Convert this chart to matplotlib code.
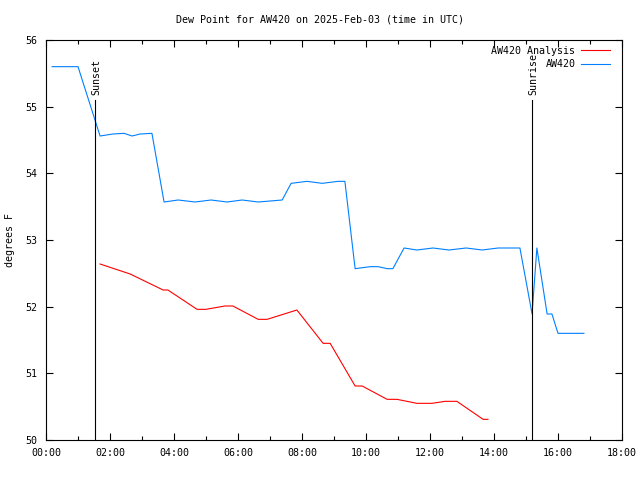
import matplotlib
matplotlib.use("Agg")
import matplotlib.pyplot as plt
from matplotlib.ticker import MultipleLocator, FuncFormatter

# Times in hours UTC
blue_t = [0.19, 1.0, 1.69, 2.09, 2.44, 2.69, 2.94, 3.31, 3.69, 4.13, 4.66, 5.16, 5.66,
          6.13, 6.63, 7.38, 7.66, 8.16, 8.63, 9.13, 9.34, 9.66, 10.13, 10.38, 10.66,
          10.84, 11.19, 11.59, 12.09, 12.59, 13.13, 13.63, 14.13, 14.81, 15.19, 15.34,
          15.66, 15.81, 16.0, 16.81]
blue_v = [55.6, 55.6, 54.56, 54.59, 54.6, 54.56, 54.59, 54.6, 53.57, 53.6, 53.57, 53.6,
          53.57, 53.6, 53.57, 53.6, 53.85, 53.88, 53.85, 53.88, 53.88, 52.57, 52.6, 52.6,
          52.57, 52.57, 52.88, 52.85, 52.88, 52.85, 52.88, 52.85, 52.88, 52.88, 51.89,
          52.88, 51.89, 51.89, 51.6, 51.6]

red_t = [1.69, 2.63, 3.66, 3.81, 4.72, 5.0, 5.59, 5.84, 6.63, 6.91, 7.84, 8.66, 8.88,
         9.66, 9.88, 10.66, 10.97, 11.59, 12.06, 12.47, 12.84, 13.66, 13.81]
red_v = [52.64, 52.49, 52.25, 52.25, 51.96, 51.96, 52.01, 52.01, 51.81, 51.81, 51.95,
         51.45, 51.45, 50.81, 50.81, 50.61, 50.61, 50.55, 50.55, 50.58, 50.58, 50.31, 50.31]

sunset_t = 1.53
sunrise_t = 15.19
event_top = 55.1

title = "Dew Point for AW420 on 2025-Feb-03 (time in UTC)"
mono = ["DejaVu Sans Mono"]
fs = 7.2

fig = plt.figure(figsize=(6.4, 4.8), dpi=100)
ax = fig.add_axes([46/640, 40/480, 576/640, 400/480])

ax.plot(red_t, red_v, color="#ff0000", lw=0.8, label="AW420 Analysis")
ax.plot(blue_t, blue_v, color="#0080ff", lw=0.8, label="AW420")

ax.plot([sunset_t, sunset_t], [50, event_top], color="black", lw=0.8)
ax.plot([sunrise_t, sunrise_t], [50, event_top], color="black", lw=0.8)
ax.text(sunset_t + 0.05, event_top + 0.08, "Sunset", rotation=90, ha="center", va="bottom",
        family=mono, fontsize=fs)
ax.text(sunrise_t + 0.05, event_top + 0.08, "Sunrise", rotation=90, ha="center", va="bottom",
        family=mono, fontsize=fs)

ax.set_xlim(0, 18)
ax.set_ylim(50, 56)
ax.xaxis.set_major_locator(MultipleLocator(2))
ax.xaxis.set_minor_locator(MultipleLocator(1))
ax.yaxis.set_major_locator(MultipleLocator(1))
ax.xaxis.set_major_formatter(FuncFormatter(lambda v, p: f"{int(v):02d}:00"))
ax.yaxis.set_major_formatter(FuncFormatter(lambda v, p: f"{int(round(v))}"))
ax.tick_params(which="both", direction="in", top=True, right=True, labelsize=fs, width=0.8)
ax.tick_params(which="major", length=5, pad=6)
ax.tick_params(which="minor", length=3)
for lab in ax.get_xticklabels() + ax.get_yticklabels():
    lab.set_family(mono)
for s in ax.spines.values():
    s.set_linewidth(0.8)

ax.set_ylabel("degrees F", family=mono, fontsize=fs, labelpad=7.5)
fig.text(0.5, 1 - 20/480, title, ha="center", va="center", family=mono, fontsize=fs)

leg = ax.legend(loc="upper right", bbox_to_anchor=(0.985, 0.9925), borderaxespad=0, borderpad=0.3,
                frameon=False, markerfirst=False, prop={"family": mono, "size": fs},
                handlelength=2.9, labelspacing=0.35, handletextpad=0.6)
for t in leg.get_texts():
    t.set_ha("right")

fig.savefig("out.png", dpi=100)
